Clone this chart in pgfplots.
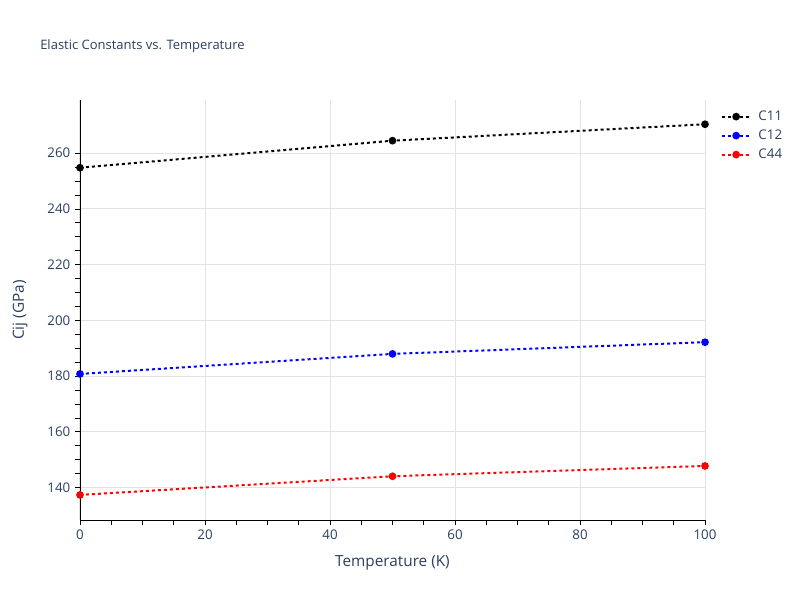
\documentclass[border=0pt]{standalone}
\usepackage{pgfplots}
\pgfplotsset{compat=1.18}
\usepackage{fontspec}
\setmainfont{Open Sans}
\definecolor{txt}{HTML}{2A3F5F}
\definecolor{grd}{HTML}{E3E3E3}
\begin{document}
\begin{tikzpicture}
\path[use as bounding box] (0,0) rectangle (600pt,450pt);
\node[anchor=west, text=txt, font=\fontsize{9.75pt}{11pt}\selectfont, inner sep=0pt] at (30pt,415.5pt) {Elastic Constants vs. Temperature};
\begin{axis}[
  at={(60pt,60pt)}, anchor=south west,
  scale only axis, width=468.75pt, height=315pt,
  xmin=0, xmax=100, ymin=128.4, ymax=279.1,
  xtick={0,20,...,100}, ytick={140,160,...,260},
  minor x tick num=3, minor y tick num=3,
  axis x line*=bottom, axis y line*=left,
  axis line style={black, line width=0.7pt, -},
  tick align=outside,
  major tick length=3.75pt, minor tick length=3.75pt,
  tick style={black, line width=0.7pt},
  grid=major,
  major grid style={grd, line width=0.75pt},
  minor grid style={draw=none},
  ticklabel style={text=txt, font=\fontsize{10pt}{11pt}\selectfont},
  /pgf/number format/assume math mode=true,
  xlabel={Temperature (K)}, ylabel={Cij (GPa)},
  label style={text=txt, font=\fontsize{11.5pt}{13pt}\selectfont},
  xlabel style={at={(axis description cs:0.5,-0.1024)}, anchor=center},
  ylabel style={at={(axis description cs:-0.096,0.5)}, anchor=center},
  clip=false,
  every axis plot/.append style={line width=1.5pt, dash pattern=on 2.25pt off 2.25pt, mark=*, mark size=2.1pt, mark options={solid}},
  legend style={at={(axis description cs:1.019,0.99)}, anchor=north west, draw=none, fill=none,
    font=\fontsize{10pt}{11pt}\selectfont, text=txt,
    nodes={inner ysep=0pt, inner xsep=0pt, minimum height=14.25pt},
    /tikz/every odd column/.append style={column sep=5.5pt}},
  legend cell align=left,
  legend image code/.code={\draw[mark repeat=2,mark phase=2,#1] plot coordinates {(0pt,0pt)(10.5pt,0pt)(21pt,0pt)};},
]
\addplot[black] coordinates {(0,254.8) (50,264.5) (100,270.4)};
\addlegendentry{C11}
\addplot[blue] coordinates {(0,180.8) (50,188.0) (100,192.2)};
\addlegendentry{C12}
\addplot[red] coordinates {(0,137.4) (50,144.1) (100,147.8)};
\addlegendentry{C44}
\end{axis}
\end{tikzpicture}
\end{document}
